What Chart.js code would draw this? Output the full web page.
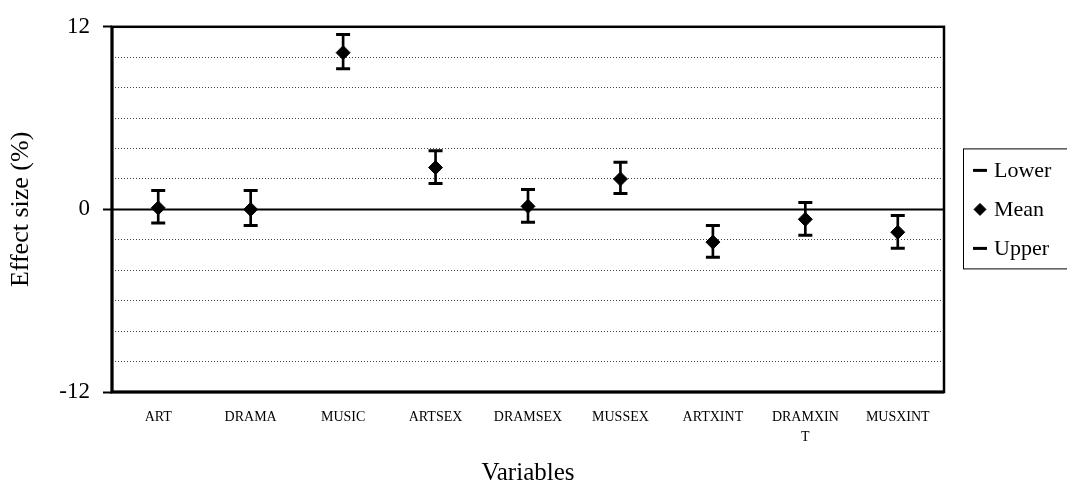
<!DOCTYPE html>
<html>
<head>
<meta charset="utf-8">
<title>Effect size by variable</title>
<script src="https://cdn.jsdelivr.net/npm/chart.js@4/dist/chart.umd.min.js"></script>
<style>
  body { margin: 0; background: #fff; }
  canvas { display: block; }
</style>
</head>
<body>
<canvas id="effects" width="1067" height="486"></canvas>
<script>
// variables and their effect sizes (%)
const variables = ['ART', 'DRAMA', 'MUSIC', 'ARTSEX', 'DRAMSEX', 'MUSSEX', 'ARTXINT', ['DRAMXIN', 'T'], 'MUSXINT'];
const lower = [-0.9, -1.05, 9.25, 1.7, -0.85, 1.05, -3.15, -1.7, -2.55];
const mean  = [0.1, 0.0, 10.3, 2.75, 0.2, 2.0, -2.15, -0.65, -1.5];
const upper = [1.25, 1.25, 11.5, 3.85, 1.3, 3.1, -1.05, 0.45, -0.4];
const labeledTicks = [12, 0, -12];

const serif = '"Liberation Serif", "Times New Roman", serif';

// whiskers: a thin floating bar from lower to upper
const whiskers = variables.map((v, i) => [lower[i], upper[i]]);

// box around plot + solid zero line
const frame = {
  id: 'frame',
  beforeDatasetsDraw(chart) {
    const { ctx, chartArea: a, scales: { y } } = chart;
    const y0 = y.getPixelForValue(0);
    ctx.save();
    ctx.strokeStyle = '#000';
    ctx.lineWidth = 2;
    ctx.beginPath();
    ctx.moveTo(a.left, y0);
    ctx.lineTo(a.right, y0);
    ctx.stroke();
    ctx.lineWidth = 2.5;
    ctx.strokeRect(a.left, a.top, a.right - a.left, a.bottom - a.top);
    // left and bottom edges are a bit heavier
    ctx.lineWidth = 3;
    ctx.beginPath();
    ctx.moveTo(a.left, a.top);
    ctx.lineTo(a.left, a.bottom);
    ctx.lineTo(a.right, a.bottom);
    ctx.stroke();
    ctx.restore();
  }
};

// legend in a box to the right of the plot
const boxLegend = {
  id: 'boxLegend',
  afterDraw(chart) {
    const { ctx, chartArea: a } = chart;
    const mid = (a.top + a.bottom) / 2;
    const left = a.right + 19;
    const top = mid - 61;
    ctx.save();
    ctx.strokeStyle = '#000';
    ctx.lineWidth = 1;
    ctx.strokeRect(left + 0.5, top + 0.5, 140, 120);
    ctx.font = '22px ' + serif;
    ctx.textBaseline = 'middle';
    const items = chart.data.datasets.filter(d => d.inLegend);
    items.forEach((d, i) => {
      const cy = mid + (i - 1) * 39;
      ctx.strokeStyle = '#000';
      ctx.fillStyle = '#000';
      ctx.lineWidth = d.borderWidth;
      Chart.helpers.drawPoint(ctx, {
        pointStyle: d.pointStyle,
        radius: d.legendRadius,
        borderWidth: d.borderWidth,
        rotation: 0
      }, left + 17, cy);
      ctx.fillText(d.label, left + 31, cy + 1);
    });
    ctx.restore();
  }
};

new Chart(document.getElementById('effects'), {
  type: 'bar',
  data: {
    labels: variables,
    datasets: [
      {
        label: 'Range',
        data: whiskers,
        backgroundColor: '#000',
        barThickness: 2,
        order: 3
      },
      {
        type: 'line',
        label: 'Lower',
        data: lower,
        showLine: false,
        pointStyle: 'line',
        pointRadius: 7,
        borderWidth: 3,
        borderColor: '#000',
        inLegend: true,
        legendRadius: 7,
        order: 2
      },
      {
        type: 'line',
        label: 'Mean',
        data: mean,
        showLine: false,
        pointStyle: 'rectRot',
        pointRadius: 7,
        borderWidth: 1,
        borderColor: '#000',
        backgroundColor: '#000',
        inLegend: true,
        legendRadius: 6,
        order: 1
      },
      {
        type: 'line',
        label: 'Upper',
        data: upper,
        showLine: false,
        pointStyle: 'line',
        pointRadius: 7,
        borderWidth: 3,
        borderColor: '#000',
        inLegend: true,
        legendRadius: 7,
        order: 2
      }
    ]
  },
  options: {
    responsive: false,
    animation: false,
    layout: { padding: { top: 26, right: 123, bottom: 0, left: 0 } },
    plugins: {
      legend: { display: false },
      tooltip: { enabled: false }
    },
    scales: {
      x: {
        grid: { display: false, drawTicks: false },
        border: { display: false },
        ticks: {
          color: '#000',
          padding: 16,
          maxRotation: 0,
          autoSkip: false,
          font: { family: serif, size: 14, lineHeight: 1.4 }
        },
        title: {
          display: true,
          text: 'Variables',
          color: '#000',
          padding: { top: 0, bottom: 0 },
          font: { family: serif, size: 25, lineHeight: 1 }
        },
        afterFit(scale) { scale.height = 94; }
      },
      y: {
        min: -12,
        max: 12,
        grid: {
          color: c => (c.tick && c.tick.value % 12 === 0) ? 'rgba(0,0,0,0)' : '#444',
          lineWidth: 1,
          tickLength: 9,
          tickWidth: 2,
          tickColor: c => (c.tick && labeledTicks.includes(c.tick.value)) ? '#000' : 'rgba(0,0,0,0)'
        },
        border: { display: false, dash: [1, 2] },
        ticks: {
          stepSize: 2,
          autoSkip: false,
          color: '#000',
          padding: 13,
          font: { family: serif, size: 23 },
          callback: v => labeledTicks.includes(v) ? String(v) : ''
        },
        title: {
          display: true,
          text: 'Effect size (%)',
          color: '#000',
          padding: { top: 8, bottom: 0 },
          font: { family: serif, size: 26, lineHeight: 1 }
        },
        afterFit(scale) { scale.width = 112; }
      }
    }
  },
  plugins: [frame, boxLegend]
});
</script>
</body>
</html>
